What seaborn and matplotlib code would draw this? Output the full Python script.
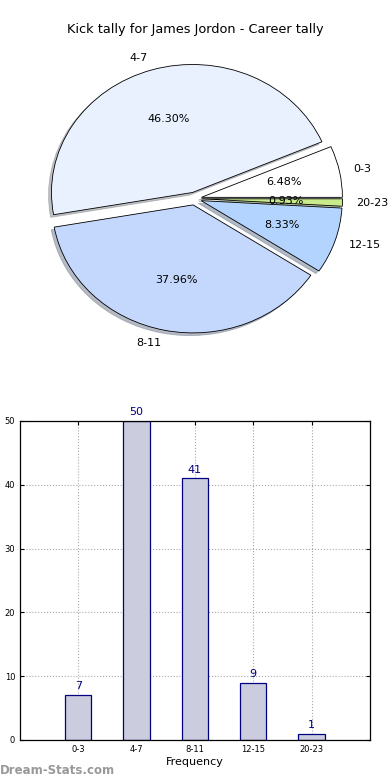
import matplotlib
matplotlib.use("Agg")
import matplotlib.pyplot as plt
import seaborn as sns

# data
categories = ["0-3", "4-7", "8-11", "12-15", "20-23"]
counts = [7, 50, 41, 9, 1]
slice_colors = ["#ffffff", "#eaf1fe", "#c4d8fe", "#b3d4fe", "#c8ec8c"]

sns.set_style("white")
plt.rcParams["font.family"] = ["DejaVu Sans"]
plt.rcParams["text.color"] = "black"
plt.rcParams["axes.labelcolor"] = "black"
plt.rcParams["xtick.color"] = "black"
plt.rcParams["ytick.color"] = "black"

fig = plt.figure(figsize=(3.9, 7.8), dpi=100)

# ---- pie (slightly squashed, like the original) ----
ax1 = fig.add_axes([0.0287, 0.532, 0.940, 0.4267])
ax1.pie(counts, labels=categories, colors=slice_colors, autopct="%.2f%%",
        explode=[0.05] * len(counts),
        shadow={"ox": -0.015, "oy": -0.015, "shade": 0.45},
        startangle=0,
        wedgeprops={"edgecolor": "black", "linewidth": 0.6},
        textprops={"fontsize": 8})
ax1.set_aspect("auto")
ax1.set_xlim(-1.3, 1.3)
ax1.set_ylim(-1.3, 1.3)
fig.text(0.5, 1 - 30 / 780, "Kick tally for James Jordon - Career tally",
         ha="center", va="center", fontsize=9.3)

# ---- bars ----
ax2 = fig.add_axes([0.0513, 0.0513, 0.897, 0.409])
sns.barplot(x=categories, y=counts, ax=ax2, width=0.45, color="#ccccdf",
            saturation=1, edgecolor="#000080", linewidth=0.9)
ax2.set_xlim(-1, 5)
ax2.set_ylim(0, 50)
ax2.set_yticks(range(0, 51, 10))
ax2.grid(True, linestyle=":", color="#aaaaaa", linewidth=0.8)
ax2.set_axisbelow(True)
for s in ax2.spines.values():
    s.set_color("black")
    s.set_linewidth(0.9)
ax2.tick_params(axis="both", labelsize=6, direction="in", length=3,
                top=True, right=True, bottom=True, left=True)
for i, v in enumerate(counts):
    ax2.text(i, v + 0.6, str(v), ha="center", va="bottom", color="#000080",
             fontsize=8)
ax2.set_xlabel("Frequency", fontsize=8, labelpad=2)
ax2.set_ylabel("")

fig.text(0.0, 1 - 771 / 780, "Dream-Stats.com", ha="left", va="center",
         color="#999999", fontsize=8.5, fontweight="bold")

fig.savefig("out.png", dpi=100)
